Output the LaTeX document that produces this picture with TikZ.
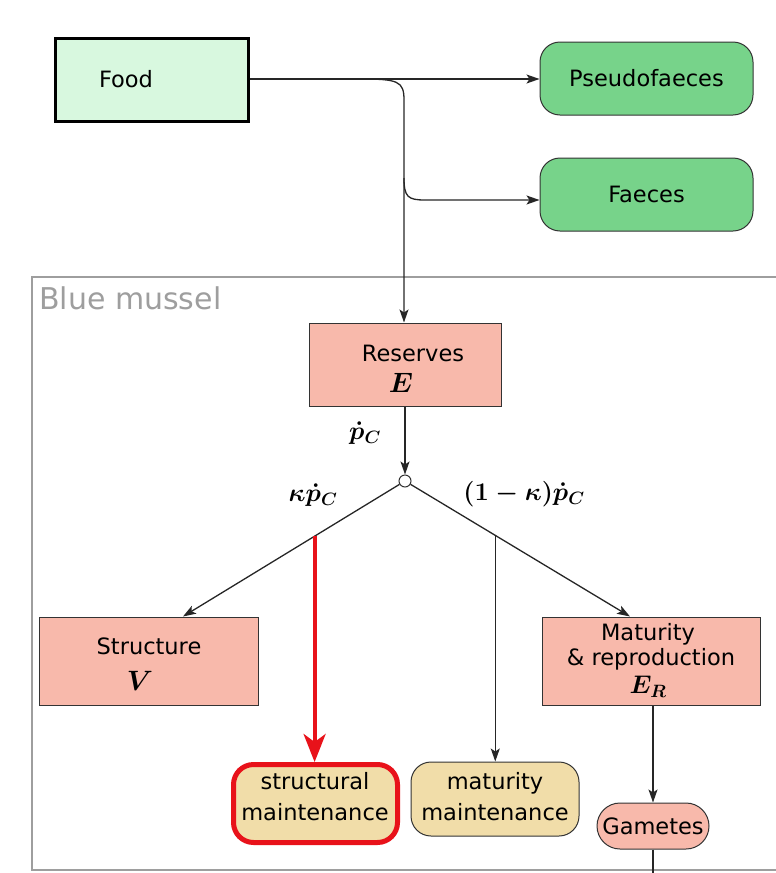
\RequirePackage{fix-cm}
\documentclass[tikz,border=0pt]{standalone}
\usepackage{fontspec}
\setmainfont{DejaVu Sans}
\usetikzlibrary{arrows.meta}
\definecolor{foodgreen}{HTML}{D8F8DF}
\definecolor{fgreen}{HTML}{77D38A}
\definecolor{salmon}{HTML}{F8B9AB}
\definecolor{wheat}{HTML}{F1DDA9}
\definecolor{redm}{HTML}{E8121A}
\definecolor{boxgray}{HTML}{9E9E9E}
\definecolor{edgec}{HTML}{333333}
\begin{document}
\begin{tikzpicture}[x=1pt,y=-1pt,
  txt/.style={font=\fontsize{22.5}{27}\selectfont},
  mathlbl/.style={font=\fontsize{25.5}{28}\selectfont\boldmath, inner sep=0pt},
  bigbmath/.style={font=\fontsize{28}{30}\selectfont\boldmath, inner sep=0pt},
  sbox/.style={draw=edgec, line width=1pt, fill=salmon, inner sep=0pt, txt, align=center},
  gbox/.style={draw=edgec, line width=1pt, fill=fgreen, rounded corners=20pt, inner sep=0pt, txt,
    minimum width=213pt, minimum height=73pt},
  wbox/.style={draw=edgec, line width=1pt, fill=wheat, rounded corners=20pt, inner sep=0pt},
  wtxt/.style={txt, align=center, inner sep=0pt, font=\fontsize{22.5}{31}\selectfont},
  arr/.style={-{Stealth[length=13pt,width=9pt,inset=3pt]}, line width=1.3pt, draw=black!85},
  redarr/.style={-{Stealth[length=28pt,width=22pt,inset=8pt]}, line width=4pt, draw=redm},
  plain/.style={line width=1.3pt, draw=black!85}
]
\useasboundingbox (0,0) rectangle (776,873);

% Blue mussel frame
\draw[boxgray, line width=2pt] (800,277) -- (32,277) -- (32,870) -- (800,870);
\node[anchor=west, text=boxgray, font=\fontsize{30}{34}\selectfont, inner sep=0pt] (bmlbl) at (39,298) {Blue mussel};

% top nodes
\node[draw=black, line width=3pt, fill=foodgreen, minimum width=193pt, minimum height=83pt, inner sep=0pt] (food) at (151.5,79.5) {};
\node[txt, inner sep=0pt] (foodlbl) at (126,79) {Food};
\node[gbox] (pseudo) at (646.5,78.5) {Pseudofaeces};
\node[gbox] (faeces) at (646.5,194.5) {Faeces};

% reserves
\node[sbox, minimum width=192pt, minimum height=83pt] (res) at (405,364.5) {};
\node[txt, inner sep=0pt] (reslbl) at (413,353) {Reserves};
\node[bigbmath] (resE) at (401,383) {$E$};

% split point
\node[circle, draw=edgec, fill=white, line width=1pt, minimum size=12pt, inner sep=0pt] (split) at (405,481) {};

% structure
\node[sbox, minimum width=219pt, minimum height=88pt] (struct) at (148.5,661) {};
\node[txt, inner sep=0pt] (structlbl) at (149,646) {Structure};
\node[bigbmath] (structV) at (140,681) {$V$};

% maturity
\node[sbox, minimum width=218pt, minimum height=88pt] (mat) at (651,661) {};
\node[txt, inner sep=0pt] (matlbl1) at (648,634) {Maturity};
\node[txt, inner sep=0pt] (matlbl2) at (651,659) {\& reproduction};
\node[mathlbl] (matE) at (648,687) {$E_R$};

% lower boxes
\node[wbox, draw=redm, line width=5pt, minimum width=164pt, minimum height=78pt] (smaint) at (315.5,803.5) {};
\node[wtxt] (smainttxt) at (315,797) {structural\\maintenance};
\node[wbox, minimum width=168pt, minimum height=74pt] (mmaint) at (495,799) {};
\node[wtxt] (mmainttxt) at (495,797) {maturity\\maintenance};
\node[sbox, rounded corners=23pt, minimum width=112pt, minimum height=46pt] (gam) at (653,826) {Gametes};

% flux labels
\node[mathlbl] (pc) at (365,433) {$\dot p_C$};
\node[mathlbl] (kpc) at (313,495) {$\kappa\dot p_C$};
\node[mathlbl] (okpc) at (524,494) {$(1-\kappa)\dot p_C$};

% food connectors
\coordinate (fsplit) at (360,79);
\coordinate (fdown) at (404,190);
\draw[arr] (food.east |- fsplit) -- (pseudo.west |- fsplit);
\draw[arr] (fsplit) .. controls (398,79) and (404,81) .. (404,100) -- (res.north -| fdown);
\draw[arr] (404,178) .. controls (404,197) and (408,200) .. (425,200) -- (faeces.west |- 0,200);

% reserves to split
\draw[arr] (res.south) -- (split.north);

% split to structure / maturity
\draw[arr] (split) -- coordinate[pos=0.392] (sm) ([xshift=34.5pt]struct.north);
\draw[arr] (split) -- coordinate[pos=0.386] (mm) ([xshift=-21pt]mat.north);
\draw[redarr] (sm) -- (sm |- smaint.north);
\draw[arr] (mm) -- (mm |- mmaint.north);

% maturity to gametes
\draw[arr] (mat.south -| gam.north) -- (gam.north);
\draw[plain] (gam.south) -- ++(0,30);
\end{tikzpicture}
\end{document}
